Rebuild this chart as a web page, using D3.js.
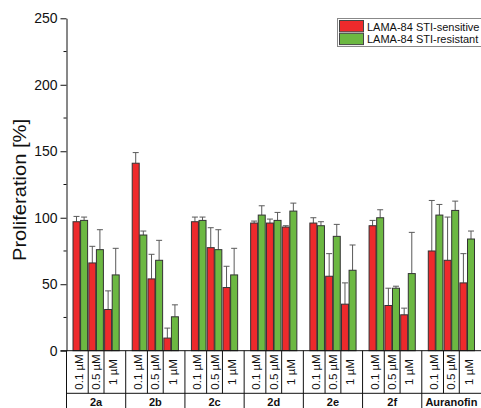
<!DOCTYPE html>
<html>
<head>
<meta charset="utf-8">
<script src="https://cdn.jsdelivr.net/npm/d3@7"></script>
<style>
  html, body { margin: 0; padding: 0; background: #fff; }
  svg { display: block; font-family: "Liberation Sans", Arial, sans-serif; }
</style>
</head>
<body>
<div id="chart"></div>
<script>
// data
var groups = ["2a", "2b", "2c", "2d", "2e", "2f", "Auranofin"];
var concs = ["0.1 µM", "0.5 µM", "1 µM"];
var seriesNames = ["LAMA-84 STI-sensitive", "LAMA-84 STI-resistant"];
var seriesColors = ["#ee2a2c", "#6cb842"];
// values listed group by group, three concentrations each
var sensitive = [97, 66, 31, 141, 54, 9.5, 97, 77.5, 47.5, 96, 96, 93, 96, 56, 35, 94, 34, 27, 75, 68, 51];
var sensitiveErr = [4, 12.5, 14, 8, 18.5, 7.5, 3.5, 15, 16, 1.5, 3, 1, 4, 17, 16, 4, 13, 5, 38, 32.5, 22];
var resistant = [98, 76, 57, 87, 68, 25.5, 98, 76, 57, 102, 98, 105, 94, 86, 60.5, 100, 47, 58, 102, 105.5, 84];
var resistantErr = [2.5, 15, 20, 3, 15, 9, 2.5, 15, 20, 7, 6, 6, 3, 9, 19, 6, 1.5, 31, 8, 7, 6];
var yTicks = [0, 50, 100, 150, 200, 250];

var W = 481, H = 408;
var plotLeft = 66.5, plotTop = 18.3, plotBottom = 350.7;
var row1 = 393.3;

var svg = d3.select("#chart").append("svg")
  .attr("width", W).attr("height", H);

// scales
var x0 = d3.scaleBand().domain(groups).range([plotLeft, 481]).padding(0);
var x1 = d3.scaleBand().domain(concs).range([0, x0.bandwidth()])
  .paddingInner(0).paddingOuter(0.373);
var x2 = d3.scaleBand().domain([0, 1]).range([0, x1.bandwidth()]).padding(0.08);
var y = d3.scaleLinear().domain([0, 250]).range([plotBottom, plotTop]);

// flatten into records
var rows = [];
groups.forEach(function (g, gi) {
  concs.forEach(function (c, ci) {
    var k = gi * 3 + ci;
    rows.push({ g: g, c: c, s: 0, v: sensitive[k], e: sensitiveErr[k] });
    rows.push({ g: g, c: c, s: 1, v: resistant[k], e: resistantErr[k] });
  });
});

function bx(d) { return x0(d.g) + x1(d.c) + x2(d.s); }

// error bars (upper half)
var eb = svg.append("g").attr("stroke", "#5a5a5a").attr("stroke-width", 1);
rows.forEach(function (d) {
  var cx = bx(d) + x2.bandwidth() / 2;
  eb.append("line").attr("x1", cx).attr("x2", cx)
    .attr("y1", y(d.v)).attr("y2", y(d.v + d.e));
  eb.append("line").attr("x1", cx - 3).attr("x2", cx + 3)
    .attr("y1", y(d.v + d.e)).attr("y2", y(d.v + d.e));
});

// bars
svg.append("g").selectAll("rect").data(rows).enter().append("rect")
  .attr("x", bx)
  .attr("y", function (d) { return y(d.v); })
  .attr("width", x2.bandwidth())
  .attr("height", function (d) { return y(0) - y(d.v); })
  .attr("fill", function (d) { return seriesColors[d.s]; })
  .attr("stroke", "#333").attr("stroke-width", 1);

// y axis
var yAxis = d3.axisLeft(y).tickValues(yTicks).tickSize(6).tickSizeOuter(0).tickPadding(3);
var yAxisG = svg.append("g").attr("transform", "translate(" + plotLeft + ",0)").call(yAxis);
yAxisG.selectAll("text").style("font-size", "14px").attr("fill", "#111");
yAxisG.select(".domain").attr("stroke", "#111");
yAxisG.selectAll(".tick line").attr("stroke", "#111");
svg.append("g").selectAll("line").data(d3.range(25, 250, 50)).enter().append("line")
  .attr("x1", plotLeft - 3).attr("x2", plotLeft)
  .attr("y1", function (d) { return y(d); }).attr("y2", function (d) { return y(d); })
  .attr("stroke", "#111");

svg.append("text")
  .attr("transform", "translate(26,190) rotate(-90)")
  .attr("text-anchor", "middle")
  .style("font-size", "18px").attr("fill", "#111")
  .attr("textLength", 142).attr("lengthAdjust", "spacingAndGlyphs")
  .text("Proliferation [%]");

// category table under the plot
var tbl = svg.append("g").attr("stroke", "#111").attr("stroke-width", 1);
tbl.append("line").attr("x1", plotLeft - 6).attr("x2", W).attr("y1", plotBottom).attr("y2", plotBottom);
tbl.append("line").attr("x1", plotLeft).attr("x2", W).attr("y1", row1).attr("y2", row1);
groups.forEach(function (g) {
  var gx = x0(g);
  tbl.append("line").attr("x1", gx).attr("x2", gx).attr("y1", plotBottom).attr("y2", H);
  concs.slice(1).forEach(function (c) {
    tbl.append("line").attr("x1", gx + x1(c)).attr("x2", gx + x1(c))
      .attr("y1", plotBottom).attr("y2", row1);
  });
});

rows.filter(function (d) { return d.s === 0; }).forEach(function (d) {
  var gx = x0(d.g);
  var ci = concs.indexOf(d.c);
  var cellL = ci === 0 ? 0 : x1(d.c);
  var cellR = ci === concs.length - 1 ? x0.bandwidth() : x1(d.c) + x1.bandwidth();
  var cellMid = (cellL + cellR) / 2;
  var pairMid = x1(d.c) + x1.bandwidth() / 2;
  var cx = gx + (cellMid + pairMid) / 2;
  svg.append("text")
    .attr("transform", "translate(" + (cx + 4) + "," + ((plotBottom + row1) / 2) + ") rotate(-90)")
    .attr("text-anchor", "middle")
    .style("font-size", "11.5px").attr("fill", "#111")
    .text(d.c);
});

svg.append("g").selectAll("text").data(groups).enter().append("text")
  .attr("x", function (d) { return x0(d) + x0.bandwidth() / 2; })
  .attr("y", 406)
  .attr("text-anchor", "middle")
  .style("font-size", "11px").style("font-weight", "bold").attr("fill", "#111")
  .text(function (d) { return d; });

// legend
var lg = svg.append("g");
lg.append("rect").attr("x", 337.5).attr("y", 18.5).attr("width", 150).attr("height", 28)
  .attr("fill", "#fff").attr("stroke", "#888");
seriesNames.forEach(function (name, i) {
  lg.append("rect").attr("x", 339.5).attr("y", 20.5 + i * 12.8)
    .attr("width", 24).attr("height", 11.3)
    .attr("fill", seriesColors[i]).attr("stroke", "#444");
  lg.append("text").attr("x", 367).attr("y", 30.5 + i * 12.8)
    .style("font-size", "11px").attr("fill", "#111")
    .text(name);
});
</script>
</body>
</html>
